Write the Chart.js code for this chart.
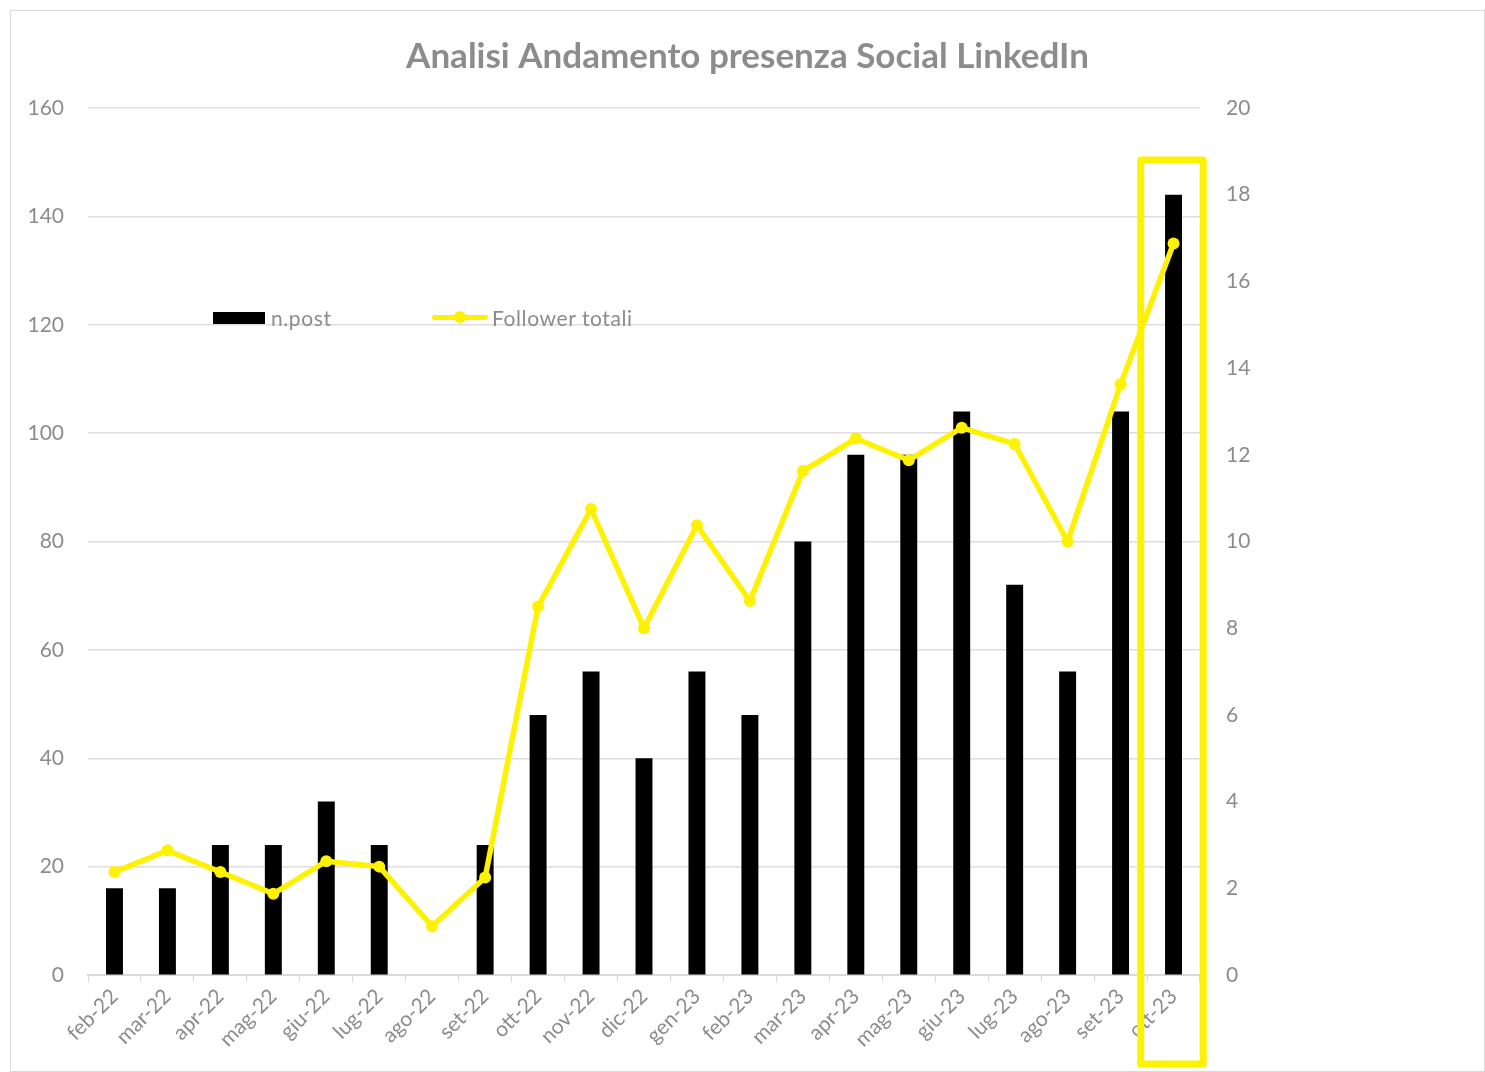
<!DOCTYPE html>
<html>
<head>
<meta charset="utf-8">
<script src="https://cdn.jsdelivr.net/npm/chart.js@4"></script>
<style>
  html, body { margin: 0; padding: 0; background: #fff; }
  #frame {
    position: absolute; left: 10px; top: 10px;
    width: 1473px; height: 1060px;
    border: 1px solid #d9d9d9;
  }
  #chart { display: block; }
  .legend {
    position: absolute; top: 294px;
    font-family: Lato, sans-serif; font-size: 21px; color: #8c8c8c; letter-spacing: 0.6px;
    display: flex; align-items: center; white-space: nowrap;
  }
  .sw-bar { width: 52px; height: 12px; background: #000; margin-right: 6px; }
  .sw-line { position: relative; width: 56px; height: 5px; background: #fff200; margin-right: 4px; border-radius: 3px; }
  .sw-line::after {
    content: ""; position: absolute; left: 22px; top: -4px;
    width: 12px; height: 12px; border-radius: 50%; background: #fff200;
  }
</style>
</head>
<body>
<div id="frame">
  <canvas id="chart"></canvas>
  <div class="legend" style="left:202px"><span class="sw-bar"></span><span>n.post</span></div>
  <div class="legend" style="left:421px"><span class="sw-line"></span><span>Follower totali</span></div>
</div>
<script>
const months = ["feb-22", "mar-22", "apr-22", "mag-22", "giu-22", "lug-22", "ago-22", "set-22",
  "ott-22", "nov-22", "dic-22", "gen-23", "feb-23", "mar-23", "apr-23", "mag-23",
  "giu-23", "lug-23", "ago-23", "set-23", "ott-23"];
const posts = [2, 2, 3, 3, 4, 3, 0, 3, 6, 7, 5, 7, 6, 10, 12, 12, 13, 9, 7, 13, 18];
const followers = [19, 23, 19, 15, 21, 20, 9, 18, 68, 86, 64, 83, 69, 93, 99, 95, 101, 98, 80, 109, 135];
const leftTicks = [0, 20, 40, 60, 80, 100, 120, 140, 160];
const rightTicks = [0, 2, 4, 6, 8, 10, 12, 14, 16, 18, 20];

const gray = "#8c8c8c";
const yellow = "#fff200";
const W = 1473, H = 1060;

const canvas = document.querySelector("#chart");
canvas.style.width = W + "px";
canvas.style.height = H + "px";

// yellow box around the last month
const highlight = {
  id: "highlight",
  afterDatasetsDraw(chart) {
    const { ctx, scales, chartArea } = chart;
    const last = months.length - 1;
    const cx = scales.x.getPixelForValue(last);
    const step = scales.x.getPixelForValue(1) - scales.x.getPixelForValue(0);
    const left = cx - step * 0.62;
    const right = cx + step * 0.56;
    const top = scales.y1.getPixelForValue(18.8);
    const bottom = chartArea.bottom + 89;
    ctx.save();
    ctx.strokeStyle = yellow;
    ctx.lineWidth = 7;
    ctx.lineJoin = "round";
    ctx.strokeRect(left, top, right - left, bottom - top);
    ctx.restore();
  },
};

new Chart(canvas, {
  data: {
    labels: months,
    datasets: [
      {
        type: "line",
        label: "Follower totali",
        data: followers,
        yAxisID: "y",
        borderColor: yellow,
        backgroundColor: yellow,
        borderWidth: 5.5,
        pointRadius: 6,
        pointBackgroundColor: yellow,
        pointBorderWidth: 0,
        tension: 0,
        order: 0,
      },
      {
        type: "bar",
        label: "n.post",
        data: posts,
        yAxisID: "y1",
        backgroundColor: "#000",
        barPercentage: 0.32,
        categoryPercentage: 1,
        order: 1,
      },
    ],
  },
  options: {
    responsive: false,
    animation: false,
    devicePixelRatio: 1,
    layout: { padding: { top: 0, bottom: 0, left: 0, right: 0 } },
    plugins: {
      legend: { display: false },
      tooltip: { enabled: false },
      title: {
        display: true,
        text: "Analisi Andamento presenza Social LinkedIn",
        color: gray,
        font: { family: "Lato", size: 35, weight: "bold" },
        padding: { top: 25, bottom: 30 },
      },
    },
    scales: {
      x: {
        offset: true,
        grid: { drawOnChartArea: false, drawTicks: true, tickLength: 7, color: "#d9d9d9", offset: true },
        border: { color: "#d9d9d9", width: 2 },
        ticks: {
          color: gray, font: { family: "Lato", size: 21 },
          maxRotation: 45, minRotation: 45, autoSkip: false, padding: 2,
        },
        afterFit: (s) => { s.height = 96; },
      },
      y: {
        position: "left",
        min: 0, max: 160,
        afterBuildTicks: (s) => { s.ticks = leftTicks.map((v) => ({ value: v })); },
        grid: { color: "#dedede", lineWidth: 1.5, drawTicks: false },
        border: { display: false },
        ticks: { color: gray, font: { family: "Lato", size: 21 }, padding: 24 },
        afterFit: (s) => { s.width = 77; },
      },
      y1: {
        position: "right",
        min: 0, max: 20,
        afterBuildTicks: (s) => { s.ticks = rightTicks.map((v) => ({ value: v })); },
        grid: { drawOnChartArea: false, drawTicks: false },
        border: { display: false },
        ticks: { color: gray, font: { family: "Lato", size: 21 }, padding: 26 },
        afterFit: (s) => { s.width = W - 1189; },
      },
    },
  },
  plugins: [highlight],
});
</script>
</body>
</html>
